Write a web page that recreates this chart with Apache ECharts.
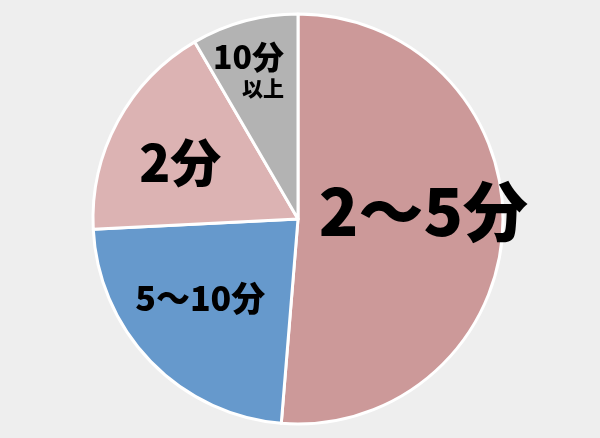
<!DOCTYPE html>
<html>
<head>
<meta charset="utf-8">
<title>所要時間</title>
<script src="https://cdn.jsdelivr.net/npm/echarts@6/dist/echarts.min.js"></script>
<style>
html, body { margin: 0; padding: 0; background: #eeeeee; }
#chart { width: 600px; height: 438px; }
</style>
</head>
<body>
<div id="chart"></div>
<script>
// 区分とその割合（%）
var categories = ['2〜5分', '5〜10分', '2分', '10分以上'];
var shares = [51.3, 22.9, 17.4, 8.4];
var colors = ['#cc9999', '#6699cc', '#dcb3b3', '#b3b3b3'];

// ラベルの大きさと位置の調整
var labelSizes = [65, 34, 51, 32];
var labelShift = [[20, -12], [-22, 6], [-25, -6], [-22, -46]];

var font = '"Noto Sans CJK JP", "Noto Sans", sans-serif';

var pieData = categories.map(function (name, i) {
    var item = {
        name: name,
        value: shares[i],
        itemStyle: { color: colors[i] },
        label: { fontSize: labelSizes[i] }
    };
    if (name === '10分以上') {
        item.label.formatter = '{a|10分}\n{b|以上}';
        item.label.rich = {
            a: { fontSize: 32, fontWeight: 900, fontFamily: font, color: '#000', lineHeight: 33, align: 'right' },
            b: { fontSize: 21, fontWeight: 900, fontFamily: font, color: '#000', lineHeight: 28, align: 'right' }
        };
    }
    return item;
});

var option = {
    backgroundColor: '#eeeeee',
    animation: false,
    series: [
        {
            type: 'pie',
            center: [298, 219],
            radius: 205,
            startAngle: 90,
            clockwise: true,
            silent: true,
            itemStyle: { borderColor: '#ffffff', borderWidth: 3 },
            label: {
                show: true,
                position: 'inside',
                formatter: '{b}',
                color: '#000',
                fontWeight: 900,
                fontFamily: font
            },
            labelLine: { show: false },
            labelLayout: function (p) {
                return { dx: labelShift[p.dataIndex][0], dy: labelShift[p.dataIndex][1] };
            },
            emphasis: { disabled: true },
            data: pieData
        }
    ]
};

var myChart = echarts.init(document.getElementById('chart'));
myChart.setOption(option, true);
</script>
</body>
</html>
